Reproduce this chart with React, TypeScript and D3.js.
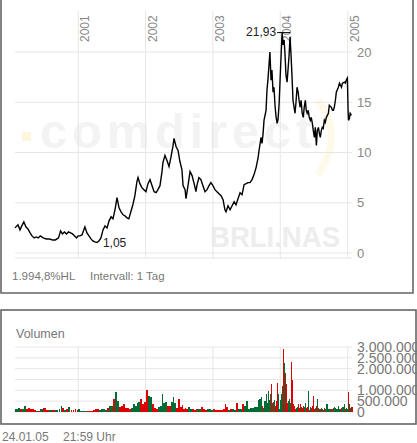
import React from "react";
import * as d3 from "d3";

// [date, close, volume in thousands]
const prices2000: [string, number, number][] = [
  ["2000-01-24", 2.5, 150], ["2000-02-09", 2.8, 200], ["2000-02-20", 2.3, 130], ["2000-03-01", 2.7, 150],
  ["2000-03-12", 3.1, 300], ["2000-03-23", 2.6, 150], ["2000-04-03", 2.4, 180], ["2000-04-15", 2.0, 120],
  ["2000-04-25", 1.7, 150], ["2000-05-07", 1.5, 100], ["2000-05-18", 1.6, 60], ["2000-05-29", 1.5, 60],
  ["2000-06-09", 1.7, 120], ["2000-06-25", 1.5, 200], ["2000-07-12", 1.4, 80], ["2000-07-28", 1.4, 80],
  ["2000-08-14", 1.3, 100], ["2000-08-30", 1.3, 80], ["2000-09-16", 1.5, 120], ["2000-09-27", 2.2, 280],
  ["2000-10-07", 1.9, 200], ["2000-10-18", 2.1, 100], ["2000-10-29", 1.9, 120], ["2000-11-09", 2.1, 220],
  ["2000-11-20", 2.0, 100], ["2000-12-01", 1.9, 100], ["2000-12-12", 1.7, 150], ["2000-12-23", 1.5, 80],
  ["2000-12-31", 1.7, 120],
];
const prices2001: [string, number, number][] = [
  ["2001-01-10", 1.7, 60], ["2001-01-21", 1.8, 40], ["2001-02-06", 2.6, 50], ["2001-02-17", 2.0, 40],
  ["2001-02-28", 1.7, 40], ["2001-03-11", 1.4, 40], ["2001-03-21", 1.2, 80], ["2001-04-01", 1.1, 120],
  ["2001-04-12", 1.05, 130], ["2001-04-23", 1.2, 100], ["2001-05-04", 1.5, 120], ["2001-05-15", 2.3, 150],
  ["2001-05-26", 2.7, 100], ["2001-06-06", 2.5, 200], ["2001-06-17", 3.2, 300], ["2001-06-28", 3.6, 280],
  ["2001-07-08", 3.4, 580], ["2001-07-19", 4.3, 920], ["2001-07-30", 5.5, 500], ["2001-08-10", 4.5, 250],
  ["2001-08-21", 4.1, 300], ["2001-09-01", 3.8, 350], ["2001-09-11", 3.7, 200], ["2001-09-22", 3.5, 200],
  ["2001-10-02", 3.4, 150], ["2001-10-13", 4.1, 200], ["2001-10-24", 4.8, 380], ["2001-11-04", 5.7, 300],
  ["2001-11-15", 7.1, 430], ["2001-11-21", 7.5, 450], ["2001-12-01", 6.9, 580], ["2001-12-12", 6.5, 350],
  ["2001-12-23", 6.3, 450],
];
const prices2002: [string, number, number][] = [
  ["2002-01-03", 6.1, 1010], ["2002-01-14", 6.9, 740], ["2002-01-25", 7.3, 700], ["2002-02-05", 6.7, 350],
  ["2002-02-16", 6.1, 200], ["2002-02-27", 6.0, 150], ["2002-03-09", 6.3, 250], ["2002-03-20", 6.7, 300],
  ["2002-03-31", 8.1, 850], ["2002-04-05", 9.0, 400], ["2002-04-16", 9.7, 450], ["2002-04-27", 9.2, 300],
  ["2002-05-08", 8.6, 300], ["2002-05-19", 9.6, 450], ["2002-05-30", 10.7, 700], ["2002-06-04", 11.4, 400],
  ["2002-06-15", 10.6, 200], ["2002-06-26", 10.2, 580], ["2002-07-06", 9.1, 250], ["2002-07-17", 8.3, 340],
  ["2002-07-23", 6.7, 150], ["2002-08-03", 6.3, 200], ["2002-08-08", 5.4, 150], ["2002-08-19", 6.7, 250],
  ["2002-08-30", 8.1, 120], ["2002-09-10", 7.7, 120], ["2002-09-21", 6.9, 100], ["2002-10-01", 6.1, 150],
  ["2002-10-06", 6.7, 120], ["2002-10-17", 7.5, 120], ["2002-10-28", 7.3, 230], ["2002-11-08", 6.7, 150],
  ["2002-11-19", 6.1, 100], ["2002-11-30", 6.3, 120], ["2002-12-11", 6.7, 150], ["2002-12-21", 7.0, 100],
];
const prices2003: [string, number, number][] = [
  ["2003-01-01", 6.7, 120], ["2003-01-12", 6.3, 100], ["2003-01-23", 6.1, 80], ["2003-02-03", 5.9, 100],
  ["2003-02-14", 5.7, 100], ["2003-02-25", 5.3, 150], ["2003-03-07", 4.3, 350], ["2003-03-13", 4.1, 250],
  ["2003-03-24", 4.7, 100], ["2003-04-04", 4.3, 120], ["2003-04-15", 4.7, 120], ["2003-04-26", 5.1, 100],
  ["2003-05-06", 4.8, 400], ["2003-05-17", 5.4, 150], ["2003-05-28", 6.0, 120], ["2003-06-08", 5.8, 350],
  ["2003-06-19", 6.8, 300], ["2003-06-30", 6.9, 490], ["2003-07-10", 7.0, 120], ["2003-07-21", 7.0, 200],
  ["2003-08-01", 7.3, 180], ["2003-08-12", 7.8, 250], ["2003-08-23", 8.5, 250], ["2003-09-03", 9.5, 540],
  ["2003-09-08", 10.2, 620], ["2003-09-19", 11.5, 700], ["2003-09-24", 10.9, 300], ["2003-09-30", 11.9, 200],
  ["2003-10-05", 13.2, 500], ["2003-10-16", 14.2, 850], ["2003-10-21", 16.2, 400], ["2003-10-27", 17.4, 970],
  ["2003-11-01", 18.7, 550], ["2003-11-06", 20.0, 850], ["2003-11-12", 17.2, 1270], ["2003-11-17", 18.2, 400],
  ["2003-11-23", 16.0, 450], ["2003-11-28", 16.5, 550], ["2003-12-04", 14.6, 300], ["2003-12-09", 13.6, 500],
  ["2003-12-15", 12.9, 1350], ["2003-12-20", 13.3, 850], ["2003-12-26", 14.9, 150], ["2003-12-31", 17.2, 550],
];
const prices2004: [string, number, number][] = [
  ["2004-01-05", 19.4, 850], ["2004-01-11", 21.93, 1200], ["2004-01-16", 20.7, 2890], ["2004-01-22", 21.2, 2270],
  ["2004-01-27", 19.7, 1800], ["2004-02-01", 17.7, 1270], ["2004-02-07", 17.0, 400], ["2004-02-12", 18.2, 500],
  ["2004-02-18", 19.7, 600], ["2004-02-23", 21.5, 400], ["2004-02-28", 19.9, 2320], ["2004-03-05", 17.5, 1500],
  ["2004-03-10", 15.2, 350], ["2004-03-16", 14.5, 300], ["2004-03-21", 13.9, 150], ["2004-03-26", 14.9, 200],
  ["2004-04-01", 16.5, 250], ["2004-04-07", 16.0, 350], ["2004-04-12", 15.2, 200], ["2004-04-18", 14.5, 350],
  ["2004-04-23", 15.2, 250], ["2004-04-29", 13.9, 200], ["2004-05-05", 13.5, 300], ["2004-05-10", 14.5, 250],
  ["2004-05-16", 15.2, 400], ["2004-05-21", 14.2, 200], ["2004-05-26", 13.9, 250], ["2004-06-01", 14.2, 970],
  ["2004-06-06", 13.5, 100], ["2004-06-12", 13.2, 250], ["2004-06-17", 13.5, 200], ["2004-06-23", 12.9, 300],
  ["2004-06-28", 12.2, 740], ["2004-07-04", 11.5, 150], ["2004-07-09", 12.5, 200], ["2004-07-15", 10.7, 300],
  ["2004-07-20", 12.2, 590], ["2004-07-26", 12.5, 200], ["2004-07-31", 11.9, 150], ["2004-08-05", 11.5, 150],
  ["2004-08-11", 12.2, 200], ["2004-08-16", 12.5, 150], ["2004-08-21", 12.4, 100], ["2004-08-27", 13.2, 200],
  ["2004-09-01", 13.0, 150], ["2004-09-07", 13.5, 350], ["2004-09-18", 13.9, 150], ["2004-09-23", 14.7, 150],
  ["2004-10-04", 14.5, 150], ["2004-10-10", 14.2, 150], ["2004-10-15", 14.2, 200], ["2004-10-20", 14.5, 250],
  ["2004-10-26", 15.2, 200], ["2004-10-31", 16.0, 150], ["2004-11-11", 16.5, 300], ["2004-11-17", 16.9, 150],
  ["2004-11-28", 16.5, 200], ["2004-12-03", 16.9, 250], ["2004-12-14", 17.0, 350], ["2004-12-19", 16.9, 150],
  ["2004-12-24", 17.2, 200], ["2004-12-30", 17.4, 150],
];
const prices2005: [string, number, number][] = [
  ["2005-01-03", 14.0, 920], ["2005-01-05", 13.2, 690], ["2005-01-10", 13.4, 350], ["2005-01-14", 13.9, 200],
  ["2005-01-21", 13.7, 250],
];

const yearTicks = ["2001", "2002", "2003", "2004", "2005"];
const priceTicks = [0, 5, 10, 15, 20];
const volumeGrid = [0, 500000, 1000000, 1500000, 2000000, 2500000, 3000000];
const volumeLabels = [0, 500000, 1000000, 2000000, 2500000, 3000000];

const FONT = "'Liberation Sans', Arial, Helvetica, sans-serif";

export default function App() {
  const parse = d3.timeParse("%Y-%m-%d");
  const rows = [...prices2000, ...prices2001, ...prices2002, ...prices2003, ...prices2004, ...prices2005].map(
    ([d, c, v]) => ({ date: parse(d) as Date, close: c, volume: v * 1000 })
  );

  const x = d3.scaleTime().domain([new Date(2000, 0, 24), new Date(2005, 0, 24)]).range([15, 352]);
  const y = d3.scaleLinear().domain([0, 20]).range([253, 52]);
  const yv = d3.scaleLinear().domain([0, 3000000]).range([412, 347]);

  const line = d3
    .line<{ date: Date; close: number }>()
    .x((d) => x(d.date))
    .y((d) => y(d.close));

  const de = d3.formatLocale({ decimal: ",", thousands: ".", grouping: [3], currency: ["", "€"] });
  const fmtVol = de.format(",");
  const fmtPrice = de.format(",.2f");

  const maxRow = rows.reduce((a, b) => (b.close > a.close ? b : a));
  const minRow = rows.reduce((a, b) => (b.close < a.close ? b : a));

  const grid = "#e6e6e6";
  const yearX = yearTicks.map((t) => x(new Date(+t, 0, 1)));

  return (
    <svg
      width={417}
      height={443}
      style={{ position: "absolute", left: 0, top: 0, background: "#fff" }}
      fontFamily={FONT}
    >
      {/* watermark */}
      <rect x={22} y={132} width={9} height={9} fill="#fdf6dc" />
      <text x={40} y={148} fontSize={49} fontWeight="bold" fill="#f3f3f3" textLength={272} lengthAdjust="spacing">
        comdirect
      </text>
      <path d="M318,100 Q345,135 318,175" fill="none" stroke="#fef9e8" strokeWidth={7} />
      <text x={210} y={247} fontSize={30} fontWeight="bold" fill="#ededed" textLength={130} lengthAdjust="spacingAndGlyphs">
        BRLI.NAS
      </text>

      {/* price grid */}
      {priceTicks.map((t) => (
        <line key={"h" + t} x1={15} x2={352} y1={y(t)} y2={y(t)} stroke={grid} strokeWidth={1} />
      ))}
      <line x1={15} x2={352} y1={258} y2={258} stroke={grid} />
      {yearX.map((xx, i) => (
        <line key={"v" + i} x1={xx} x2={xx} y1={11} y2={258} stroke={grid} />
      ))}
      {yearTicks.map((t, i) => (
        <text key={"yt" + t} transform={`translate(${yearX[i] + 11},42) rotate(-90)`} fontSize={12} fill="#888">
          {t}
        </text>
      ))}
      {priceTicks.map((t) => (
        <text key={"pl" + t} x={357} y={y(t) + 4.5} fontSize={13} fill="#888">
          {t}
        </text>
      ))}

      {/* price line */}
      <path d={line(rows) || ""} fill="none" stroke="#000" strokeWidth={1.4} strokeLinejoin="miter" />

      {/* max / min labels */}
      <line x1={x(maxRow.date) - 5} x2={x(maxRow.date) + 8} y1={y(maxRow.close)} y2={y(maxRow.close)} stroke="#000" />
      <text x={x(maxRow.date) - 6} y={y(maxRow.close) + 3.5} fontSize={12} fill="#222" textAnchor="end">
        {fmtPrice(maxRow.close)}
      </text>
      <text x={x(minRow.date) + 6} y={y(minRow.close) + 4.5} fontSize={12} fill="#222">
        {fmtPrice(minRow.close)}
      </text>

      <text x={12} y={280} fontSize={11.5} fill="#777">
        1.994,8%HL
      </text>
      <text x={90} y={280} fontSize={11.5} fill="#777">
        Intervall: 1 Tag
      </text>

      {/* top panel frame */}
      <path d="M1,0 V293 H413 V0" fill="none" stroke="#666" strokeWidth={1.6} />

      {/* volume panel */}
      <rect x={1} y={310} width={415} height={114} fill="none" stroke="#666" strokeWidth={1.6} />
      <text x={16} y={338} fontSize={12.5} fill="#777">
        Volumen
      </text>
      {volumeGrid.map((t) => (
        <line key={"vg" + t} x1={15} x2={352} y1={yv(t)} y2={yv(t)} stroke={grid} />
      ))}
      {yearX.map((xx, i) => (
        <line key={"vv" + i} x1={xx} x2={xx} y1={347} y2={412} stroke={grid} />
      ))}
      {rows.map((r, i) => {
        const x0 = x(r.date);
        const x1 = i < rows.length - 1 ? x(rows[i + 1].date) : x0 + 1.5;
        const up = i === 0 ? true : r.close >= rows[i - 1].close;
        return (
          <rect
            key={"vb" + i}
            x={x0}
            y={yv(r.volume)}
            width={Math.max(1, x1 - x0 - 0.3)}
            height={yv(0) - yv(r.volume)}
            fill={up ? "#006b35" : "#dd0000"}
            shapeRendering="crispEdges"
          />
        );
      })}
      {volumeLabels.map((t) => (
        <text key={"vl" + t} x={357} y={yv(t) + 5} fontSize={14} fill="#777">
          {fmtVol(t)}
        </text>
      ))}

      <text x={2} y={441} fontSize={12} fill="#777">
        24.01.05
      </text>
      <text x={63} y={441} fontSize={12} fill="#777">
        21:59 Uhr
      </text>
    </svg>
  );
}
